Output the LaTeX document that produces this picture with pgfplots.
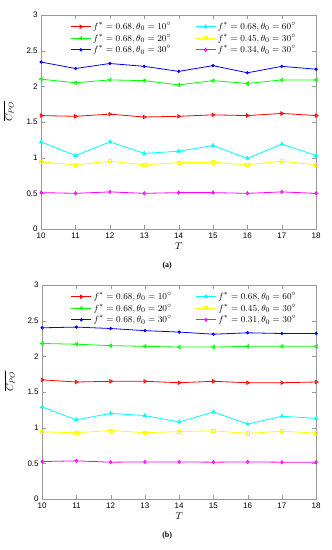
\documentclass[border=0pt]{standalone}
\usepackage{pgfplots}
\pgfplotsset{compat=1.18}
\usepackage{fontspec}
\setmainfont{Liberation Sans}
\newfontfamily\capfont{Liberation Serif}
\definecolor{cR}{RGB}{255,0,0}
\definecolor{cG}{RGB}{0,255,0}
\definecolor{cB}{RGB}{0,0,255}
\definecolor{cC}{RGB}{0,255,255}
\definecolor{cY}{RGB}{255,255,0}
\definecolor{cM}{RGB}{255,0,255}
\begin{document}
\begin{tikzpicture}
\pgfplotsset{
  every axis/.append style={
    scale only axis,
    xmin=10, xmax=18, ymin=0, ymax=3,
    xtick={10,...,18}, ytick={0,0.5,...,3},
    /pgf/number format/assume math mode=true,
    tick label style={font=\fontsize{8}{9}\selectfont},
    axis line style={gray!80},
    tick style={gray!80},
    tick align=inside,
    xlabel={$T$},
    ylabel={$\overline{C_{PO}}$},
    xlabel style={yshift=2pt, font=\normalsize},
    ylabel style={at={(ticklabel cs:0.55)}, yshift=6pt, font=\normalsize},
    legend columns=2,
    legend style={draw=none, fill=none, at={(0.52,0.985)}, anchor=north,
      font=\fontsize{9.5}{11}\selectfont, row sep=-1pt, inner xsep=0pt,
      /tikz/every even column/.append style={column sep=22pt}},
    legend cell align=left,
    legend image code/.code={\draw[mark repeat=2,mark phase=2] plot coordinates {(0cm,0cm) (0.35cm,0cm) (0.7cm,0cm)};},
    every axis plot/.append style={line width=0.8pt, mark size=1.9pt},
  },
}
\path (0,0) rectangle (327pt,550pt);
% ---------- (a) ----------
\begin{axis}[at={(37pt,321pt)}, anchor=south west, width=275pt, height=214pt]
\addplot[cR, mark=triangle, mark options={rotate=-90}] coordinates {(10,1.59)(11,1.58)(12,1.61)(13,1.57)(14,1.58)(15,1.60)(16,1.59)(17,1.62)(18,1.59)};
\addlegendentry{$f^*=0.68,\theta_0=10^\circ$}
\addplot[cC, mark=triangle*] coordinates {(10,1.22)(11,1.03)(12,1.22)(13,1.06)(14,1.09)(15,1.17)(16,0.99)(17,1.19)(18,1.03)};
\addlegendentry{$f^*=0.68,\theta_0=60^\circ$}
\addplot[cG, mark=triangle, mark options={rotate=90}] coordinates {(10,2.10)(11,2.05)(12,2.09)(13,2.08)(14,2.02)(15,2.08)(16,2.04)(17,2.09)(18,2.09)};
\addlegendentry{$f^*=0.68,\theta_0=20^\circ$}
\addplot[cY, mark=square, mark size=1.6pt] coordinates {(10,0.94)(11,0.90)(12,0.95)(13,0.90)(14,0.93)(15,0.935)(16,0.90)(17,0.95)(18,0.90)};
\addlegendentry{$f^*=0.45,\theta_0=30^\circ$}
\addplot[cB, mark=*, mark size=1.2pt] coordinates {(10,2.34)(11,2.25)(12,2.32)(13,2.28)(14,2.21)(15,2.29)(16,2.19)(17,2.28)(18,2.24)};
\addlegendentry{$f^*=0.68,\theta_0=30^\circ$}
\addplot[cM, mark=diamond, mark size=1.6pt] coordinates {(10,0.51)(11,0.50)(12,0.52)(13,0.50)(14,0.51)(15,0.51)(16,0.50)(17,0.52)(18,0.50)};
\addlegendentry{$f^*=0.34,\theta_0=30^\circ$}
\end{axis}
\node[font=\capfont\bfseries\fontsize{8}{9}\selectfont] at (163pt,284pt) {(a)};
% ---------- (b) ----------
\begin{axis}[at={(38pt,51pt)}, anchor=south west, width=274pt, height=214pt]
\addplot[cR, mark=triangle, mark options={rotate=-90}] coordinates {(10,1.67)(11,1.64)(12,1.65)(13,1.65)(14,1.63)(15,1.65)(16,1.63)(17,1.63)(18,1.64)};
\addlegendentry{$f^*=0.68,\theta_0=10^\circ$}
\addplot[cC, mark=triangle*] coordinates {(10,1.29)(11,1.11)(12,1.20)(13,1.17)(14,1.08)(15,1.22)(16,1.05)(17,1.16)(18,1.13)};
\addlegendentry{$f^*=0.68,\theta_0=60^\circ$}
\addplot[cG, mark=triangle, mark options={rotate=90}] coordinates {(10,2.18)(11,2.17)(12,2.15)(13,2.14)(14,2.13)(15,2.13)(16,2.14)(17,2.14)(18,2.14)};
\addlegendentry{$f^*=0.68,\theta_0=20^\circ$}
\addplot[cY, mark=square, mark size=1.6pt] coordinates {(10,0.94)(11,0.93)(12,0.96)(13,0.93)(14,0.945)(15,0.955)(16,0.92)(17,0.95)(18,0.925)};
\addlegendentry{$f^*=0.45,\theta_0=30^\circ$}
\addplot[cB, mark=*, mark size=1.2pt] coordinates {(10,2.40)(11,2.41)(12,2.39)(13,2.36)(14,2.34)(15,2.31)(16,2.33)(17,2.32)(18,2.32)};
\addlegendentry{$f^*=0.68,\theta_0=30^\circ$}
\addplot[cM, mark=diamond, mark size=1.6pt] coordinates {(10,0.525)(11,0.535)(12,0.516)(13,0.52)(14,0.52)(15,0.516)(16,0.52)(17,0.516)(18,0.516)};
\addlegendentry{$f^*=0.31,\theta_0=30^\circ$}
\end{axis}
\node[font=\capfont\bfseries\fontsize{8}{9}\selectfont] at (163pt,14pt) {(b)};
\end{tikzpicture}
\end{document}
